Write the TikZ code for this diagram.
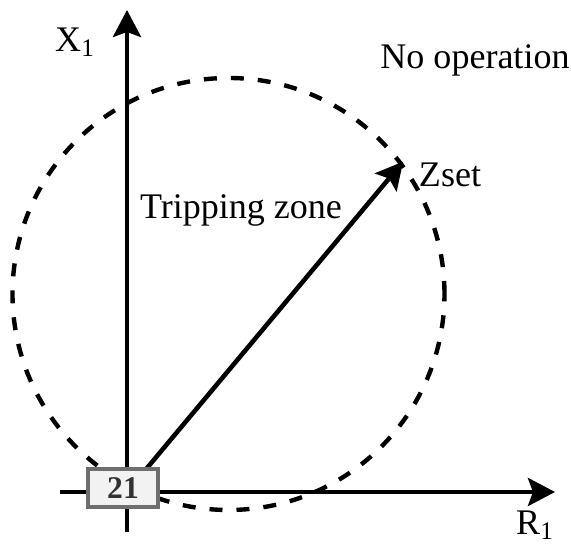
\documentclass[tikz,border=0pt]{standalone}
\usepackage{fontspec}
\setmainfont{LiberationSerif}[Extension=.ttf,UprightFont=*-Regular,BoldFont=*-Bold]
\usetikzlibrary{arrows.meta,positioning}
\definecolor{ink}{RGB}{0,0,0}
\definecolor{slate}{RGB}{110,110,110}
\definecolor{paper}{RGB}{242,242,242}
\definecolor{digit}{RGB}{50,50,50}
\tikzset{
  >={Stealth[length=5.4mm,width=5.6mm,inset=1mm]},
  axis/.style={->,line width=2.6pt,draw=ink},
  zone/.style={line width=2.5pt,draw=ink,dash pattern=on 0.26cm off 0.28cm},
  setting/.style={->,line width=2.6pt,draw=ink,shorten >=-1pt},
  tag/.style={font=\fontsize{20.5}{24}\selectfont,text=ink,inner sep=0pt},
  relay/.style={draw=slate,fill=paper,line width=2.6pt,minimum width=14mm,
    minimum height=7.6mm,inner sep=0pt,text=digit,font=\fontsize{18}{20}\selectfont\bfseries},
}
\begin{document}
\begin{tikzpicture}
  \useasboundingbox (0,0) rectangle (11.42,10.92);
  % axes
  \coordinate (o) at (2.54,1.08);
  \coordinate (xbot) at (2.54,0.28);
  \coordinate (xtop) at (2.54,10.72);
  \coordinate (rleft) at (1.2,1.08);
  \coordinate (rright) at (11.1,1.08);
  \coordinate (zset) at (8.04,7.66);
  \draw[axis] (xbot) -- (xtop);
  \draw[axis] (rleft) -- (rright);
  % tripping circle
  \coordinate (c) at (4.57,5.04);
  \draw[zone] (c) circle (4.32);
  \draw[setting] (o) -- (zset);
  % labels
  \node[tag] (xl) at (1.5,10.08) {X\textsubscript{1}};
  \node[tag] (rl) at (10.7,0.42) {R\textsubscript{1}};
  \node[tag] (zl) at (9.0,7.42) {Zset};
  \node[tag] (trip) at (4.82,6.72) {Tripping zone};
  \node[tag] (noop) at (9.5,9.72) {No operation};
  \node[relay] (r21) at (2.46,1.16) {21};
\end{tikzpicture}
\end{document}
